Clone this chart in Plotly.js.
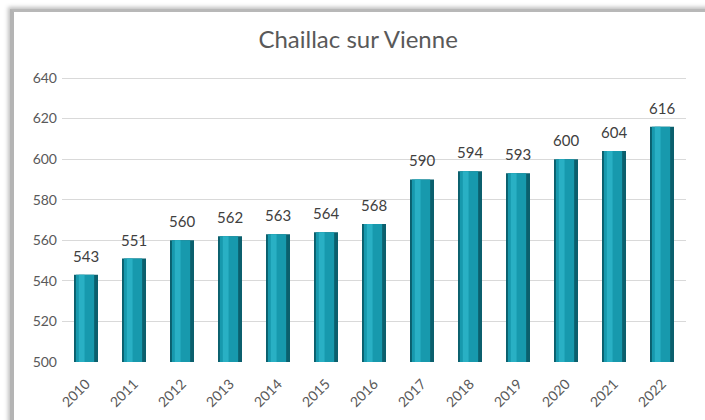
<!DOCTYPE html>
<html>
<head>
<meta charset="utf-8">
<script src="https://cdn.plot.ly/plotly-3.0.1.min.js"></script>
<style>
  body { margin: 0; background: #ffffff; }
  #chart { position: absolute; left: 0; top: 0; width: 705px; height: 420px; }
  #frame { position: absolute; left: 10px; top: 9px; width: 700px; height: 430px;
           border-left: 4px solid #b4b4b4; border-top: 3px solid #b8b8b8; border-right: 2px solid #c8c8c8;
           box-shadow: -2px -2px 4px rgba(0,0,0,0.25); pointer-events: none; }
</style>
</head>
<body>
<div id="chart"></div>
<div id="frame"></div>
<script>
const years = ["2010","2011","2012","2013","2014","2015","2016","2017","2018","2019","2020","2021","2022"];
const population = [543, 551, 560, 562, 563, 564, 568, 590, 594, 593, 600, 604, 616];
const yTicks = [500, 520, 540, 560, 580, 600, 620, 640];

const fontFam = "Lato, 'Open Sans', sans-serif";
const grey = "#595959";

const traces = [
  { type: "bar", x: years, y: population, width: 0.5,
    marker: { color: "#0b5f6d", line: { width: 0 } }, hoverinfo: "x+y", showlegend: false },
  { type: "bar", x: years, y: population, width: 0.38, offset: -0.21,
    marker: { color: "#1799ad", line: { width: 0 } }, hoverinfo: "skip", showlegend: false },
  { type: "bar", x: years, y: population, width: 0.12, offset: -0.15,
    marker: { color: "#29b0c4", line: { width: 0 } }, hoverinfo: "skip", showlegend: false }
];

const annotations = years.map((yr, i) => ({
  x: i, y: population[i], xref: "x", yref: "y", text: String(population[i]),
  showarrow: false, yanchor: "bottom", yshift: 8,
  font: { family: fontFam, size: 15, color: "#404040" }
}));

const layout = {
  width: 705, height: 420,
  margin: { l: 62, r: 19, t: 77, b: 58 },
  paper_bgcolor: "#ffffff", plot_bgcolor: "#ffffff",
  title: { text: "Chaillac sur Vienne", x: 0.508, xanchor: "center", y: 0.905, yanchor: "middle",
           font: { family: fontFam, size: 24, color: grey } },
  barmode: "overlay",
  xaxis: { type: "category", categoryorder: "array", categoryarray: years, range: [-0.5, 12.5],
           tickangle: -45, showgrid: false, zeroline: false, showline: false,
           ticks: "", ticklabelstandoff: 10, tickfont: { family: fontFam, size: 14, color: grey } },
  yaxis: { range: [500, 640.5], tickvals: yTicks, showgrid: true, gridcolor: "#d9d9d9", gridwidth: 1,
           zeroline: false, showline: false, ticks: "", ticklabelstandoff: 4,
           tickfont: { family: fontFam, size: 14, color: grey } },
  annotations: annotations,
  showlegend: false
};

Plotly.newPlot("chart", traces, layout, { displayModeBar: false, staticPlot: true });
</script>
</body>
</html>
